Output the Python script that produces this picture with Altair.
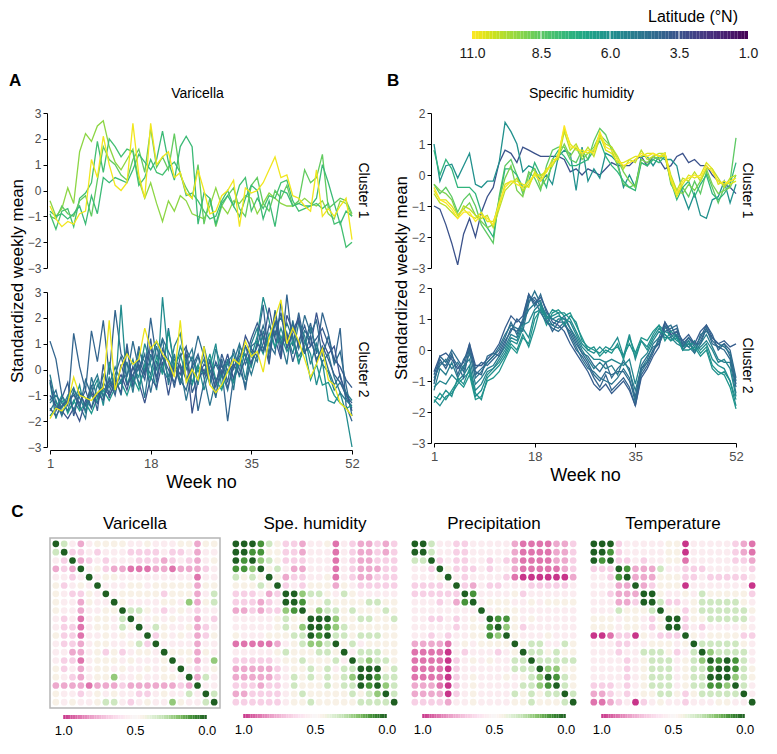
import altair as alt
import numpy as np
import pandas as pd

FONT = "Liberation Sans"
WEEKS = list(range(1, 53))
WEEK_TICKS = [1, 18, 35, 52]
LAT_TICKS = [11.0, 8.5, 6.0, 3.5, 1.0]
CLUSTERS = ["Cluster 1", "Cluster 2"]
VAR_YTICKS = [-3, -2, -1, 0, 1, 2, 3]
HUM_YTICKS = [-3, -2, -1, 0, 1, 2]

# ---------------- Varicella, cluster 1 ----------------
var_c1_lat = [9.3, 8.0, 8.6, 7.8, 10.8]
var_c1_a = [-0.4, -1.0, -0.7, 0.1, -0.5, 1.5, 2.2, 1.9, 2.5, 2.7, 1.7, 1.1, 0.8, 1.2, 1.6,
            0.4, -0.3, 0.3, -0.5, -1.2, -0.4, -0.8, -0.2, -0.4, -0.9, -1.0, -1.1, -0.6, 0.1, -0.6,
            -0.9, -0.4, -0.5, -0.2, -0.3, -0.9, -0.5, -0.1, -0.3, -0.5, -0.6, -0.6, -0.5, -0.3, -0.5,
            -0.6, -0.4, -0.9, -1.1, -0.4, -0.5, -1.0]
var_c1_b = [-0.9, -1.5, -0.8, -0.7, -1.4, -0.3, -0.1, 0.3, 1.9, 0.7, 2.0, 1.7, 1.3, 1.6, 1.5,
            0.2, 0.5, 1.2, 0.7, 0.6, 0.9, 1.1, 0.7, -0.2, -0.1, -0.4, -0.8, -1.1, -1.0, -0.4,
            0.0, -0.6, 0.2, 0.5, -0.8, -0.3, -0.7, -0.2, -0.3, 0.3, 0.4, -0.4, -0.8, -0.7, -0.6,
            -0.5, -0.7, -0.5, -1.3, -1.2, -2.2, -2.0]
var_c1_c = [-1.0, -1.1, -0.6, -0.9, -1.0, -0.4, -0.2, -1.0, 0.4, 1.7, 1.2, 1.0, 0.6, 0.4, 1.2,
            1.6, 0.7, 2.4, 0.9, 1.3, 0.8, 2.2, 0.6, 0.1, -0.3, 1.0, -1.3, -0.3, -1.4, -0.6,
            -0.2, 0.1, -0.7, -1.0, 0.2, 0.5, -0.5, -0.8, 0.0, -0.3, 0.2, -0.6, -0.4, 0.8, 0.3,
            0.5, 1.4, -0.7, -0.5, -0.3, -0.4, -0.9]
var_c1_d = [-0.8, -1.0, -0.9, -1.1, -0.9, -0.6, -1.3, -0.2, -0.9, 0.5, 0.3, 0.5, 0.4, 0.3, 0.8,
            1.4, 1.1, 0.8, 1.2, 2.3, 1.1, 0.4, 1.7, 2.1, 1.7, -1.3, -0.1, -0.3, -1.3, -0.5,
            -0.2, -0.6, -1.0, -0.3, 0.2, 0.0, -1.1, -0.4, -1.4, 0.0, -0.1, -0.6, -0.5, -0.6, -0.6,
            -0.3, 1.0, 0.3, -0.5, -1.3, -0.8, -1.0]
var_c1_e = [-0.6, -1.1, -1.4, -1.2, -1.3, -0.9, -0.8, 1.2, 0.5, 2.1, 1.0, 0.2, 0.0, 0.3, 2.6,
            0.6, -0.3, 2.6, 1.0, 1.3, 1.5, 0.5, 0.7, -0.1, -0.3, 0.8, 0.0, -0.9, -0.8, -0.2,
            0.0, 0.4, -1.4, 0.1, -0.1, 0.0, 0.3, 0.8, 1.3, 0.5, 0.6, -0.2, -0.3, -0.6, -0.8,
            0.8, -1.0, -0.7, -1.0, -0.6, -0.3, -1.9]
var_c1 = [var_c1_a, var_c1_b, var_c1_c, var_c1_d, var_c1_e]

# ---------------- Varicella, cluster 2 ----------------
var_c2_lat = [4.2, 5.8, 4.8, 3.6, 5.3, 4.5, 6.3, 3.9, 5.0, 4.0, 10.7]
var_c2_a = [1.1, 0.4, -1.0, -1.4, 1.4, 0.1, -0.8, 1.5, 0.3, 1.9, -0.2, 2.3, 0.6, 0.2, -0.4,
            0.9, -0.1, 2.0, 0.4, 1.2, 0.7, 0.2, -0.6, 0.8, 0.3, -1.6, -0.5, 0.4, -1.0, 0.0,
            -2.0, -0.3, 0.4, -0.8, 0.9, 1.1, 2.5, 0.3, 1.9, 0.5, 2.9, 0.9, 2.2, 1.0, 1.8,
            0.6, 2.2, 1.4, 0.3, 1.6, -1.4, -2.0]
var_c2_b = [-0.5, -1.9, -1.2, -1.6, -1.3, -0.6, -1.7, -0.9, -0.4, -1.4, 0.3, -0.9, 2.5, -0.6, 0.1,
            -0.3, 1.0, 0.2, -0.8, 2.8, 0.4, -0.1, 0.9, 0.3, -0.5, 0.2, -0.8, 0.1, 1.0, -0.7,
            0.3, 0.6, -0.3, 0.9, 0.5, 1.3, 2.8, 1.9, 0.8, 1.6, 0.9, 1.3, 0.2, 1.1, 0.6,
            -0.6, 0.3, -1.2, -1.3, -0.9, -1.7, -3.0]
var_c2_c = [-1.6, -1.2, -1.8, -1.1, -0.7, -1.4, -1.9, -0.3, -1.1, -0.2, -0.7, -0.3, -1.0, 0.8, -0.5,
            0.1, -1.1, 0.6, 0.0, 1.2, -0.6, 0.4, 0.1, -1.2, -0.1, 0.5, -0.3, -1.4, -0.4, -0.1,
            -0.8, 0.3, 1.0, 0.2, 0.7, 0.3, 1.5, 0.6, 2.3, 1.1, 0.2, 1.9, 0.8, 1.5, 1.2,
            0.4, 0.8, 0.0, -0.6, -0.2, -1.1, -1.5]
var_c2_d = [-1.0, -1.4, -1.6, -1.9, -1.5, -2.0, -1.2, -0.9, -1.3, -0.7, -1.0, -0.6, -0.2, -0.8, 0.1,
            -0.5, -1.3, -0.3, -0.7, 0.3, -1.0, 0.2, -0.2, 0.6, -1.7, -0.4, 0.0, -0.5, 0.3, -0.2,
            0.6, -0.4, 0.2, 1.3, 0.8, 0.5, 1.0, 2.4, 1.2, 0.4, 2.1, 1.5, 2.0, 0.7, 0.9,
            2.2, 1.1, 0.6, 0.9, -0.3, -0.9, -1.6]
var_c2_e = [-0.2, -1.3, -1.5, -1.0, -1.6, -0.9, -1.1, -1.5, -0.6, -1.0, -0.3, -0.8, -0.4, -0.2, 0.4,
            -0.6, 0.0, 0.3, 1.1, 0.5, -0.3, 0.9, 1.4, 0.0, 0.5, -0.1, 0.4, -0.6, 0.8, 0.1,
            0.2, 0.0, 0.7, -0.4, 1.0, 1.6, 0.8, 1.2, 1.7, 2.0, 1.4, 0.6, 1.8, 1.3, 0.2,
            1.0, 0.2, -0.1, -0.8, -0.5, -0.9, -1.2]
var_c2_f = [-1.2, -0.8, -1.7, -1.3, -0.9, -1.5, -0.4, -1.0, -1.3, -0.5, -0.9, -0.2, 0.5, -0.3, 1.1,
            0.0, 0.6, -0.9, 0.3, -0.1, 1.6, 0.1, -0.4, -0.8, 0.2, 1.3, 0.5, -0.2, -1.1, 0.4,
            -0.5, 0.8, 0.0, -0.6, 0.3, 0.9, 1.7, 1.0, 0.6, 2.6, 1.1, 1.8, 0.9, 2.1, 1.4,
            1.9, 0.5, 1.3, 0.2, 0.7, -0.6, -1.8]
var_c2_g = [-1.8, -1.5, -1.0, -1.7, -1.2, -1.6, -1.3, -1.7, -1.1, -0.8, -1.2, -0.7, -0.5, -1.0, -0.3,
            -0.8, 0.2, -0.4, 0.5, -0.2, 1.5, 0.1, 0.6, -0.3, -0.6, 0.1, -0.2, 0.6, -0.4, -0.8,
            0.0, -0.5, 0.4, 0.6, 0.1, 1.1, 0.6, 1.4, 0.9, 1.3, 0.7, 1.1, 0.3, 0.8, -0.4,
            0.2, -0.6, -0.5, -1.0, -1.3, -1.5, -1.4]
var_c2_h = [-0.4, -1.6, -1.1, -0.5, -1.8, -0.9, -1.4, -0.6, -1.6, 0.2, -1.1, -0.4, -0.9, 1.0, -0.7,
            0.4, -0.2, 1.2, -0.5, 0.8, 0.3, -0.7, 0.5, 0.9, -0.9, -0.3, 0.2, 0.0, -0.7, 0.6,
            -0.1, 0.2, -0.2, 0.4, 1.2, 1.8, 1.2, 0.2, 2.2, 0.8, 1.4, 0.3, 1.1, 1.7, 0.9,
            1.2, 1.6, 1.0, 0.4, 0.1, -0.4, -0.7]
var_c2_i = [-1.3, -1.0, -1.3, -1.6, -0.8, -1.1, -1.6, -0.7, -0.2, -1.1, -0.6, 0.1, -0.5, 0.3, -0.9,
            0.7, 0.3, -0.2, 0.9, 0.0, -0.4, 0.6, -0.5, 0.3, 0.8, -0.6, 0.9, -0.1, 0.2, -0.3,
            0.4, -0.8, 0.9, 0.5, -0.2, 0.6, 1.3, 0.9, 1.5, 1.0, 1.8, 1.2, 0.5, 0.9, 1.6,
            0.8, 0.3, 0.6, -0.3, -0.9, -1.2, -1.4]
var_c2_j = [-1.5, -1.8, -1.4, -1.2, -1.0, -1.3, -0.8, -1.5, -0.9, -1.2, -0.4, -1.0, 0.2, -0.6, -0.2,
            0.2, -0.4, 0.9, -0.3, 0.5, 0.0, -0.5, 0.2, -0.4, 0.1, 0.6, -0.2, 0.3, -0.5, 0.2,
            -0.7, 0.1, 0.5, 0.9, 0.2, 1.0, 0.7, 1.7, 1.3, 2.2, 0.8, 1.4, 1.9, 0.6, 1.3,
            0.3, 0.9, 0.4, -0.2, -0.5, -1.0, -1.3]
var_c2_k = [-1.9, -1.5, -1.6, -1.3, -0.3, -1.0, -1.1, -1.2, -0.9, -0.7, 1.9, -0.8, 0.1, 0.6, 0.2,
            0.4, 1.6, 0.8, 1.1, 0.6, 0.3, -0.3, 1.9, -0.5, 0.0, -0.4, 0.9, -0.6, -0.9, -0.6,
            -0.1, 0.4, 0.2, 1.1, 0.5, 0.7, -0.1, 1.2, 2.0, 2.7, 1.0, 1.6, 1.1, 0.4, -0.3,
            0.2, 0.8, -0.4, -0.6, -1.3, -1.5, -1.8]
var_c2 = [var_c2_a, var_c2_b, var_c2_c, var_c2_d, var_c2_e, var_c2_f, var_c2_g, var_c2_h,
          var_c2_i, var_c2_j, var_c2_k]

# ---------------- Specific humidity, cluster 1 ----------------
hum_c1_lat = [3.5, 6.0, 8.5, 7.5, 9.0, 10.0, 10.5, 11.0]
hum_c1_a = [-1.0, -1.1, -1.6, -2.2, -2.9, -1.9, -1.4, -2.0, -1.2, -0.7, -0.4, 0.4, 0.8, 0.7, 0.4,
            0.9, 0.8, 0.7, 0.6, 0.6, 0.6, 0.6, 0.5, 0.1, 0.2, 0.0, 0.2, 0.1, 0.0, 0.2,
            0.4, 0.3, 0.3, 0.3, 0.5, 0.6, 0.3, 0.6, 0.5, 0.2, 0.3, 0.6, 0.7, 0.4, 0.5,
            0.3, 0.3, 0.0, -0.2, -0.3, -0.4, -0.6]
hum_c1_b = [1.0, -0.2, 0.3, 0.35, -0.1, 0.3, 0.7, -0.3, -0.4, -0.2, -0.2, 0.4, 1.7, 1.4, 1.0,
            0.1, 0.3, 0.2, -0.2, 0.0, -0.3, 0.6, 0.8, 0.7, -0.5, 0.9, -0.2, 0.2, -0.1, 0.7,
            0.6, 0.4, -0.4, 0.0, -0.4, 0.6, 0.6, 0.3, 0.6, 0.5, 0.5, 0.3, -0.6, -1.1, -0.6,
            -1.3, -1.4, -0.8, -0.7, -0.2, -0.9, -0.3]
hum_c1_c = [-0.3, -0.6, -0.4, -0.7, -1.2, -0.8, -0.6, -1.0, -1.6, -1.9, -2.2, -0.7, 0.3, 0.5, 0.0,
            -0.6, 0.1, -0.1, -0.5, 0.3, 0.8, 0.9, 0.9, 0.5, 0.4, 0.8, 0.5, 1.1, 1.5, 1.3,
            0.8, 0.3, -0.3, -0.4, -0.3, 0.4, 0.3, 0.5, 0.6, 0.7, -0.3, -0.6, -0.4, -0.7, -0.2,
            -0.6, 0.1, -0.4, -0.9, -0.4, -0.2, 1.2]
hum_c1_d = [0.8, 0.0, 0.5, 0.2, -0.4, -0.4, -0.4, -0.6, -1.2, -1.7, -2.0, -0.8, 0.2, 0.2, 0.0,
            -0.4, -0.2, 0.4, 0.0, -0.4, 0.5, 0.8, 0.6, 0.3, 0.3, 0.4, 0.5, 0.8, 1.1, 0.6,
            0.3, 0.1, -0.2, -0.4, -0.5, 0.4, 0.3, 0.5, 0.4, 0.6, -0.2, -0.8, -0.4, -0.2, -0.7,
            -0.3, 0.0, -0.6, -0.8, -0.6, -0.3, 0.4]
hum_c1_e = [-0.3, -0.5, -0.6, -0.8, -1.3, -1.1, -0.9, -1.3, -1.5, -1.7, -1.6, -0.8, -0.1, 0.3, -0.5,
            -0.7, 0.0, 0.2, -0.4, -0.1, 0.3, 0.6, 1.0, 0.6, 0.9, 0.5, 0.7, 0.9, 1.3, 1.1,
            0.9, 0.5, 0.1, -0.2, -0.4, 0.5, 0.4, 0.6, 0.5, 0.7, -0.1, -0.5, -0.6, -0.3, -0.5,
            -0.2, 0.2, -0.3, -0.6, -0.5, -0.4, 0.0]
hum_c1_f = [-0.6, -0.9, -1.0, -1.2, -1.4, -1.0, -1.1, -1.3, -1.4, -1.3, -1.7, -1.1, -0.5, -0.3, -0.1,
            -0.5, -0.3, 0.0, 0.0, 0.1, 0.5, 0.5, 1.4, 0.8, 1.0, 0.6, 0.9, 0.6, 1.2, 1.0,
            0.9, 0.6, 0.2, 0.5, 0.4, 0.8, 0.5, 0.6, 0.7, 0.7, 0.0, -0.5, -0.1, -0.2, 0.1,
            -0.2, 0.2, 0.2, -0.1, -0.4, -0.1, 0.0]
hum_c1_g = [-0.5, -0.8, -0.8, -1.0, -1.3, -1.1, -1.3, -1.4, -1.2, -1.5, -1.5, -1.0, -0.3, -0.2, -0.2,
            -0.3, -0.4, 0.1, -0.1, 0.2, 0.3, 0.7, 1.5, 1.0, 0.8, 0.8, 0.7, 0.8, 1.3, 0.8,
            0.7, 0.4, 0.4, 0.5, 0.6, 0.6, 0.7, 0.7, 0.6, 0.6, -0.2, -0.7, -0.3, 0.0, -0.1,
            0.0, 0.4, 0.2, -0.3, -0.2, -0.3, -0.2]
hum_c1_h = [-0.4, -0.8, -0.9, -1.1, -1.4, -1.2, -1.2, -1.5, -1.3, -1.4, -1.6, -0.9, -0.4, -0.2, -0.3,
            -0.4, -0.2, 0.0, -0.2, 0.1, 0.4, 0.6, 1.6, 0.9, 0.9, 0.7, 0.8, 0.7, 1.4, 0.9,
            0.8, 0.5, 0.3, 0.4, 0.5, 0.7, 0.6, 0.7, 0.6, 0.7, -0.1, -0.6, -0.2, -0.1, 0.0,
            -0.1, 0.3, 0.1, -0.2, -0.3, -0.2, -0.1]
hum_c1 = [hum_c1_a, hum_c1_b, hum_c1_c, hum_c1_d, hum_c1_e, hum_c1_f, hum_c1_g, hum_c1_h]

# ---------------- Specific humidity, cluster 2 ----------------
hum_c2_lat = [4.5, 5.8, 4.2, 5.2, 6.2, 4.8, 3.9, 5.5, 4.4, 6.0]
hum_c2_a = [-1.1, -0.2, -0.4, 0.0, -0.3, -0.6, 0.2, -0.8, -0.6, -0.4, -0.2, 0.0, 0.4, 0.9, 0.5,
            1.0, 1.8, 1.4, 1.8, 1.2, 1.0, 0.9, 1.1, 0.7, 0.3, -0.1, -0.2, -0.5, -0.7, -0.4,
            -0.9, -0.6, -0.4, -0.6, -1.6, -0.5, -0.2, 0.1, 0.2, 0.8, 0.4, 0.6, 0.0, 0.2, 0.0,
            0.3, 0.7, 0.3, 0.1, 0.2, -0.2, -1.1]
hum_c2_b = [-1.6, -1.8, -1.5, -1.4, -1.1, -0.9, -0.7, -1.5, -1.3, -0.8, -0.6, -0.4, -0.1, 0.3, 0.2,
            0.7, 0.4, 1.2, 1.3, 1.0, 1.1, 1.2, 1.2, 1.0, 0.6, 0.2, 0.0, -0.1, 0.1, -0.1,
            0.1, 0.4, -0.2, 0.5, -0.3, 0.3, 0.1, 0.5, 0.8, 0.6, 0.5, 0.3, 0.2, 0.1, 0.3,
            0.0, 0.2, -0.3, -0.5, -0.6, -1.0, -1.8]
hum_c2_c = [-0.8, -0.3, -0.6, -0.2, -0.5, -0.9, 0.1, -0.6, -0.4, -0.5, -0.3, -0.1, 0.3, 0.6, 1.0,
            0.8, 1.6, 1.7, 1.4, 1.0, 0.6, 0.9, 0.9, 0.4, 0.0, -0.2, -0.5, -0.9, -1.2, -0.8,
            -1.3, -1.1, -0.9, -1.2, -1.8, -0.8, -0.5, -0.1, 0.4, 0.9, 0.6, 0.7, 0.2, 0.4, 0.1,
            0.4, 0.8, 0.5, 0.0, 0.2, 0.0, -0.9]
hum_c2_d = [-1.3, -0.6, -0.8, -0.4, -0.9, -0.5, -0.3, -1.1, -0.9, -0.6, -0.5, -0.2, 0.1, 0.5, 0.4,
            0.9, 1.3, 1.5, 1.6, 0.9, 0.8, 1.0, 1.0, 0.7, 0.4, 0.0, -0.3, -0.6, -0.4, -0.6,
            -0.5, -0.8, -0.3, -0.7, -1.3, -0.6, -0.3, 0.2, 0.4, 0.5, 0.3, 0.5, 0.0, 0.3, -0.1,
            0.2, 0.5, 0.1, -0.3, -0.4, -0.4, -1.4]
hum_c2_e = [-1.7, -1.4, -1.6, -1.3, -1.0, -1.2, -0.8, -1.6, -1.5, -1.0, -0.9, -0.7, -0.3, 0.1, -0.1,
            0.4, 0.2, 1.0, 1.3, 0.8, 1.2, 1.3, 1.1, 1.2, 0.8, 0.4, 0.0, 0.1, -0.2, 0.0,
            -0.1, 0.2, -0.3, 0.4, -0.1, 0.4, 0.3, 0.6, 0.8, 0.3, 0.6, 0.4, 0.1, 0.2, 0.2,
            -0.1, 0.1, -0.5, -0.7, -0.8, -1.2, -1.9]
hum_c2_f = [-0.9, -0.5, -0.3, -0.6, -0.4, -0.7, -0.1, -0.9, -0.7, -0.4, -0.2, 0.1, 0.5, 0.8, 0.7,
            0.6, 1.5, 1.9, 1.5, 1.1, 0.8, 0.7, 0.9, 0.5, 0.1, -0.3, -0.6, -0.7, -0.9, -1.0,
            -1.1, -0.9, -0.6, -0.9, -1.7, -0.7, -0.4, 0.0, 0.3, 0.7, 0.8, 0.4, 0.3, 0.1, -0.1,
            0.5, 0.6, 0.4, 0.2, 0.1, -0.1, -1.0]
hum_c2_g = [-0.7, -0.2, -0.1, -0.3, -0.6, -0.4, 0.2, -0.5, -0.5, -0.3, -0.1, 0.2, 0.7, 1.1, 0.9,
            1.1, 1.8, 1.5, 1.7, 1.3, 0.9, 0.8, 0.6, 0.2, -0.1, -0.4, -0.7, -1.1, -1.3, -1.1,
            -1.4, -1.2, -1.0, -1.3, -1.8, -0.9, -0.6, -0.2, 0.1, 0.9, 0.5, 0.6, 0.3, 0.5, 0.2,
            0.6, 0.8, 0.4, 0.2, 0.3, 0.1, 0.2]
hum_c2_h = [-1.2, -1.0, -1.1, -0.8, -1.0, -0.8, -0.5, -1.3, -1.1, -0.7, -0.6, -0.3, 0.0, 0.4, 0.3,
            0.8, 0.9, 1.3, 1.5, 1.1, 1.0, 1.1, 1.0, 0.9, 0.5, 0.1, -0.1, -0.3, -0.3, -0.4,
            -0.3, -0.4, -0.5, -0.3, -1.1, -0.3, -0.1, 0.3, 0.6, 0.4, 0.4, 0.2, 0.1, 0.3, 0.0,
            0.1, 0.3, 0.0, -0.4, -0.3, -0.6, -1.5]
hum_c2_i = [-1.0, -0.4, -0.5, -0.1, -0.8, -0.3, 0.0, -0.7, -0.8, -0.2, -0.1, -0.2, 0.2, 0.7, 0.6,
            0.9, 1.7, 1.6, 1.2, 0.9, 0.7, 0.6, 0.8, 0.6, 0.2, -0.1, -0.4, -0.8, -1.0, -0.7,
            -0.8, -0.7, -0.7, -1.0, -1.5, -0.6, -0.4, 0.0, 0.2, 0.6, 0.7, 0.8, 0.1, 0.4, 0.2,
            0.2, 0.7, 0.2, 0.1, 0.0, -0.3, -1.2]
hum_c2_j = [-1.5, -1.6, -1.3, -1.5, -0.9, -1.1, -0.6, -1.4, -1.6, -0.9, -0.7, -0.5, -0.2, 0.2, 0.0,
            0.5, 0.1, 0.7, 1.4, 1.0, 1.3, 1.2, 0.8, 1.1, 0.9, 0.3, 0.1, 0.0, -0.1, 0.1,
            0.0, 0.1, -0.2, 0.2, -0.2, 0.3, 0.0, 0.4, 0.7, 0.5, 0.3, 0.4, 0.0, 0.0, 0.1,
            -0.2, 0.0, -0.6, -0.8, -0.7, -1.0, -1.6]
hum_c2 = [hum_c2_a, hum_c2_b, hum_c2_c, hum_c2_d, hum_c2_e, hum_c2_f, hum_c2_g, hum_c2_h,
          hum_c2_i, hum_c2_j]

# ---------------- Distance matrices (lower triangles, digit d -> d/9) ----------------
MAT_TITLES = ["Varicella", "Spe. humidity", "Precipitation", "Temperature"]
mat_var = ["", "3", "56", "767", "5565", "46545", "456645", "4557455", "45575544",
           "565854453", "5668544534", "46685545455", "566754455436", "5577546465445",
           "56685444545554", "465754454554545", "4567544255455445", "77778777677777767",
           "455654545566545535", "4545543356545524553"]
mat_hum = ["", "0", "01", "112", "3434", "44434", "666576", "6667650", "77676621",
           "555554344", "5555543420", "45554443301", "888887543223", "5555543444334",
           "66666544344435", "777776544343533", "7777765343434320", "66676653444343301",
           "776666543444443432", "6666665443444443333"]
mat_pre = ["", "0", "33", "556", "5554", "66665", "666666", "5556571", "55555555",
           "556656545", "5555565441", "55656554412", "777785454444", "8888956555654",
           "88889654545533", "888896555555333", "8888965455545432", "77789654555553321",
           "777796545555343433", "6666755455554434443"]
mat_tem = ["", "0", "01", "666", "5561", "55577", "556777", "5557760", "55534443",
           "444544564", "4445445640", "99866945666", "555665544454", "5556553334653",
           "55556543335432", "555565433354331", "5555654333543300", "66656543335433112",
           "776565443346433333", "8876596545565554455"]
MAT_STOPS = [0.0, 0.1, 0.2, 0.3, 0.4, 0.5, 0.6, 0.7, 0.8, 0.9, 1.0]
MAT_COLORS = ["#1f5f22", "#3f8d34", "#86c26a", "#c2e2b2", "#e5f2dd", "#f8f7f7",
              "#fbe4f0", "#f5c6df", "#eba0c8", "#dd6eaa", "#c8358a"]
MAT_TICKS = [1.0, 0.5, 0.0]

PLOT_W = 302
PLOT_H = 155
MAT_W = 170


def line_frame(groups):
    rows = []
    for cluster, lats, series in groups:
        for k, (lat, vals) in enumerate(zip(lats, series)):
            for w, v in zip(WEEKS, vals):
                rows.append({"cluster": cluster, "sid": f"{cluster}-{k:02d}",
                             "lat": lat, "week": w, "value": v})
    return pd.DataFrame(rows)


def line_panel(df, title, ydom, yticks):
    base = alt.Chart(df).mark_line(strokeWidth=1.3).encode(
        x=alt.X("week:Q", scale=alt.Scale(domain=[1, 52], nice=False, zero=False),
                axis=alt.Axis(values=WEEK_TICKS, title="Week no", labelPadding=3, titlePadding=3,
                              labelFlush=False)),
        y=alt.Y("value:Q", title=None, scale=alt.Scale(domain=ydom, nice=False),
                axis=alt.Axis(values=yticks, labelPadding=2, labelFontSize=12)),
        color=alt.Color("lat:Q", scale=alt.Scale(scheme="viridis", domain=[1, 11]), legend=None),
        detail="sid:N",
        order="sid:N",
    ).properties(width=PLOT_W, height=PLOT_H)
    fac = base.facet(
        row=alt.Row("cluster:N", title="Standardized weekly mean", sort=CLUSTERS,
                    header=alt.Header(labelAngle=90, labelOrient="right", labelFontSize=14,
                                      labelPadding=1, labelFont=FONT, labelColor="black",
                                      titleOrient="left", titleFontSize=17, titleFontWeight="normal",
                                      titleFont=FONT, titleColor="black", titlePadding=-10)),
        spacing=20,
    ).properties(title=alt.Title(title, fontSize=14, fontWeight="normal", anchor="middle",
                                 offset=6, dx=8))
    return fac


def matrix_unit(tri, title, boxed):
    n = len(tri)
    rows = []
    for i in range(n):
        for j in range(n):
            if i == j:
                d = 0.0
            else:
                a, b = (i, j) if j < i else (j, i)
                s = tri[a]
                d = int(s[b]) / 9.0 if b < len(s) else 0.5
            rows.append({"i": i, "j": j, "d": d})
    df = pd.DataFrame(rows)
    props = dict(width=MAT_W, height=MAT_W,
                 title=alt.Title(title, fontSize=17, fontWeight="normal", offset=5))
    if boxed:
        props["view"] = alt.ViewBackground(stroke="#b5b5b5", strokeWidth=1.5)
    dots = alt.Chart(df).mark_circle(size=45, opacity=1).encode(
        x=alt.X("j:O", axis=None, scale=alt.Scale(padding=0.7)),
        y=alt.Y("i:O", axis=None, scale=alt.Scale(padding=0.7)),
        color=alt.Color("d:Q", scale=alt.Scale(domain=MAT_STOPS, range=MAT_COLORS), legend=None),
    ).properties(**props)

    edges = np.linspace(0, 1, 61)
    leg = pd.DataFrame({"lo": edges[:-1], "hi": edges[1:], "mid": (edges[:-1] + edges[1:]) / 2})
    bar = alt.Chart(leg).mark_rect().encode(
        x=alt.X("lo:Q", title=None,
                scale=alt.Scale(domain=[-0.092, 1.092], reverse=True, nice=False, zero=False),
                axis=alt.Axis(values=MAT_TICKS, format=".1f", ticks=False, domain=False,
                              labelFontSize=13, labelColor="black", labelPadding=5, grid=False,
                              labelFlush=False)),
        x2="hi:Q",
        color=alt.Color("mid:Q", scale=alt.Scale(domain=MAT_STOPS, range=MAT_COLORS), legend=None),
    ).properties(width=MAT_W, height=4)
    return alt.vconcat(dots, bar, spacing=6).resolve_scale(color="independent", x="independent")


# ---------------- colour bar for latitude ----------------
lat_edges = np.linspace(1, 11, 81)
cb_df = pd.DataFrame({"lo": lat_edges[:-1], "hi": lat_edges[1:],
                      "mid": (lat_edges[:-1] + lat_edges[1:]) / 2})
cb_scale = alt.Scale(domain=[1, 26.29], reverse=True, nice=False, zero=False)
cb_bar = alt.Chart(cb_df).mark_rect().encode(
    x=alt.X("lo:Q", title=None, scale=cb_scale,
            axis=alt.Axis(values=LAT_TICKS, format=".1f", ticks=False, domain=False,
                          labelFontSize=14, labelColor="#1a1a1a", labelPadding=7, grid=False,
                          labelFlush=False)),
    x2="hi:Q",
    color=alt.Color("mid:Q", scale=alt.Scale(scheme="viridis", domain=[1, 11]), legend=None),
)
cb_sep = alt.Chart(pd.DataFrame({"t": LAT_TICKS[1:4]})).mark_rule(color="white", strokeWidth=1).encode(
    x=alt.X("t:Q", title=None, scale=cb_scale)
)
colorbar = alt.layer(cb_bar, cb_sep).properties(
    width=698, height=8,
    title=alt.Title("Latitude (°N)", fontSize=16, fontWeight="normal", anchor="end",
                    frame="group", dx=-10, offset=6),
)

# ---------------- assemble ----------------
var_df = line_frame([("Cluster 1", var_c1_lat, var_c1), ("Cluster 2", var_c2_lat, var_c2)])
hum_df = line_frame([("Cluster 1", hum_c1_lat, hum_c1), ("Cluster 2", hum_c2_lat, hum_c2)])

letter = dict(fontSize=17, fontWeight="bold", anchor="start", offset=-3)
colA = alt.vconcat(line_panel(var_df, "Varicella", [-3, 3], VAR_YTICKS), title=alt.Title("A", **letter))
colB = alt.vconcat(line_panel(hum_df, "Specific humidity", [-3, 2], HUM_YTICKS),
                   title=alt.Title("B", dx=-6, **letter))
row2 = alt.hconcat(colA, colB, spacing=16)

mats = [matrix_unit(t, ttl, k == 0) for k, (t, ttl) in
        enumerate(zip([mat_var, mat_hum, mat_pre, mat_tem], MAT_TITLES))]
row3 = alt.vconcat(alt.hconcat(*mats, spacing=9).resolve_scale(color="independent"),
                   title=alt.Title("C", dx=-38, fontSize=17, fontWeight="bold", anchor="start",
                                   offset=-7))

chart = alt.concat(colorbar, row2, row3, columns=1, spacing=12).resolve_scale(
    color="independent").properties(
    padding={"left": 0, "top": 0, "right": 4, "bottom": 0}
).configure(font=FONT).configure_view(stroke=None).configure_axis(
    grid=False, domainColor="black", tickColor="black", tickSize=4, labelColor="#4d4d4d",
    labelFontSize=13, titleFontSize=18, titleFontWeight="normal", titleColor="black",
    labelFont=FONT, titleFont=FONT,
).configure_title(font=FONT, color="black").configure_header(labelFont=FONT, labelColor="black")

chart.save("out.html", embed_options={"renderer": "svg", "actions": False})
